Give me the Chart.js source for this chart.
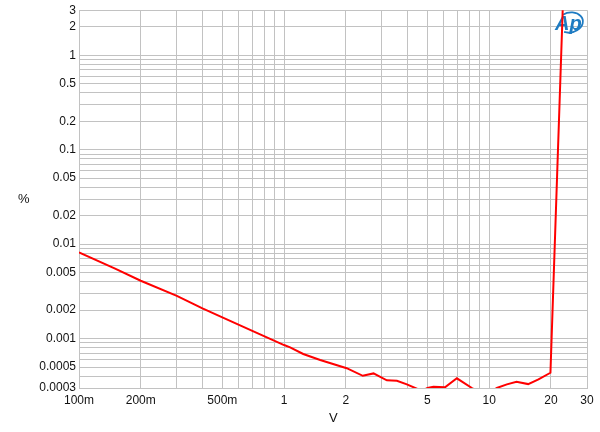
<!DOCTYPE html>
<html>
<head>
<meta charset="utf-8">
<script src="https://cdn.jsdelivr.net/npm/chart.js@4.4.1/dist/chart.umd.min.js"></script>
<style>
  html, body { margin: 0; padding: 0; background: #fff; }
  #wrap { position: relative; width: 600px; height: 432px; }
  .axlbl { position: absolute; font-family: "Liberation Sans", Arial, sans-serif; font-size: 13px; color: #111; }
</style>
</head>
<body>
<div id="wrap">
  <canvas id="thdChart" width="600" height="432"></canvas>
  <div class="axlbl" style="left:18px; top:191px;">%</div>
  <div class="axlbl" style="left:329px; top:410px;">V</div>
</div>
<script>
// THD+N (%) vs output level (V)
const levelV = [0.1, 0.15, 0.2, 0.3, 0.4, 0.5, 0.7, 1.0, 1.07, 1.24, 1.5, 2.02, 2.42, 2.73, 3.17, 3.55, 3.97, 4.44, 4.7,
                5.0, 5.35, 6.09, 6.96, 8.24, 9.5, 10.9, 12.2, 13.6, 15.5, 17.4, 19.9, 22.9];
const thdPct = [0.0082, 0.0055, 0.0041, 0.00284, 0.00209, 0.00168, 0.00121, 0.000855, 0.000809, 0.000687, 0.000593, 0.000486,
                0.000404, 0.000428, 0.000362, 0.000358, 0.000328, 0.000295, 0.00028,
                0.0003, 0.00031, 0.000305, 0.00038, 0.0003, 0.00025, 0.0003, 0.000328, 0.00035, 0.00033, 0.00037, 0.000435, 3.6];

// grid lines (1..9 per decade) and labelled ticks
const xGrid = [0.1, 0.2, 0.3, 0.4, 0.5, 0.6, 0.7, 0.8, 0.9, 1, 2, 3, 4, 5, 6, 7, 8, 9, 10, 20, 30];
const xLabels = { 0.1: '100m', 0.2: '200m', 0.5: '500m', 1: '1', 2: '2', 5: '5', 10: '10', 20: '20', 30: '30' };
const yGrid = [0.0003, 0.0004, 0.0005, 0.0006, 0.0007, 0.0008, 0.0009,
               0.001, 0.002, 0.003, 0.004, 0.005, 0.006, 0.007, 0.008, 0.009,
               0.01, 0.02, 0.03, 0.04, 0.05, 0.06, 0.07, 0.08, 0.09,
               0.1, 0.2, 0.3, 0.4, 0.5, 0.6, 0.7, 0.8, 0.9,
               1, 2, 3];
const yLabels = ['0.0003', '0.0005', '0.001', '0.002', '0.005', '0.01', '0.02', '0.05',
                 '0.1', '0.2', '0.5', '1', '2', '3'];

const gridColor = '#c2c2c2';
const tickFont = { family: '"Liberation Sans", Arial, sans-serif', size: 12 };

// Audio Precision logo, drawn under the trace
const apLogo = {
    id: 'apLogo',
    beforeDatasetsDraw(chart) {
        const ctx = chart.ctx;
        ctx.save();
        ctx.fillStyle = '#1e7bc2';
        ctx.strokeStyle = '#1e7bc2';
        ctx.font = 'italic bold 20px "Liberation Sans", Arial, sans-serif';
        ctx.textBaseline = 'alphabetic';
        ctx.fillText('Ap', 555, 30);
        ctx.lineWidth = 1.8;
        ctx.beginPath();
        ctx.ellipse(570, 22.5, 13, 10, -0.2, -2.0, 2.2);
        ctx.stroke();
        ctx.restore();
    }
};

new Chart(document.getElementById('thdChart'), {
    type: 'line',
    data: {
        datasets: [{
            data: levelV.map((v, i) => ({ x: v, y: thdPct[i] })),
            borderColor: '#ff0000',
            borderWidth: 2,
            pointRadius: 0,
            fill: false,
            tension: 0
        }]
    },
    options: {
        responsive: false,
        animation: false,
        layout: { padding: { top: 10, right: 13, left: 0, bottom: 0 } },
        plugins: { legend: { display: false }, tooltip: { enabled: false } },
        scales: {
            x: {
                type: 'logarithmic',
                min: 0.1,
                max: 30,
                afterBuildTicks: axis => { axis.ticks = xGrid.map(v => ({ value: v })); },
                afterFit: axis => { axis.height = 44; },
                grid: { color: gridColor, drawTicks: false },
                border: { color: gridColor },
                ticks: {
                    autoSkip: false,
                    maxRotation: 0,
                    padding: 5,
                    color: '#111',
                    font: tickFont,
                    callback: v => xLabels[v] || ''
                }
            },
            y: {
                type: 'logarithmic',
                min: 0.0003,
                max: 3,
                afterBuildTicks: axis => { axis.ticks = yGrid.map(v => ({ value: v })); },
                afterFit: axis => { axis.width = 79; },
                grid: { color: gridColor, drawTicks: false },
                border: { color: gridColor },
                ticks: {
                    autoSkip: false,
                    padding: 3,
                    color: '#111',
                    font: tickFont,
                    callback: v => {
                        const s = String(Number(v.toPrecision(3)));
                        return yLabels.includes(s) ? s : '';
                    }
                }
            }
        }
    },
    plugins: [apLogo]
});
</script>
</body>
</html>
